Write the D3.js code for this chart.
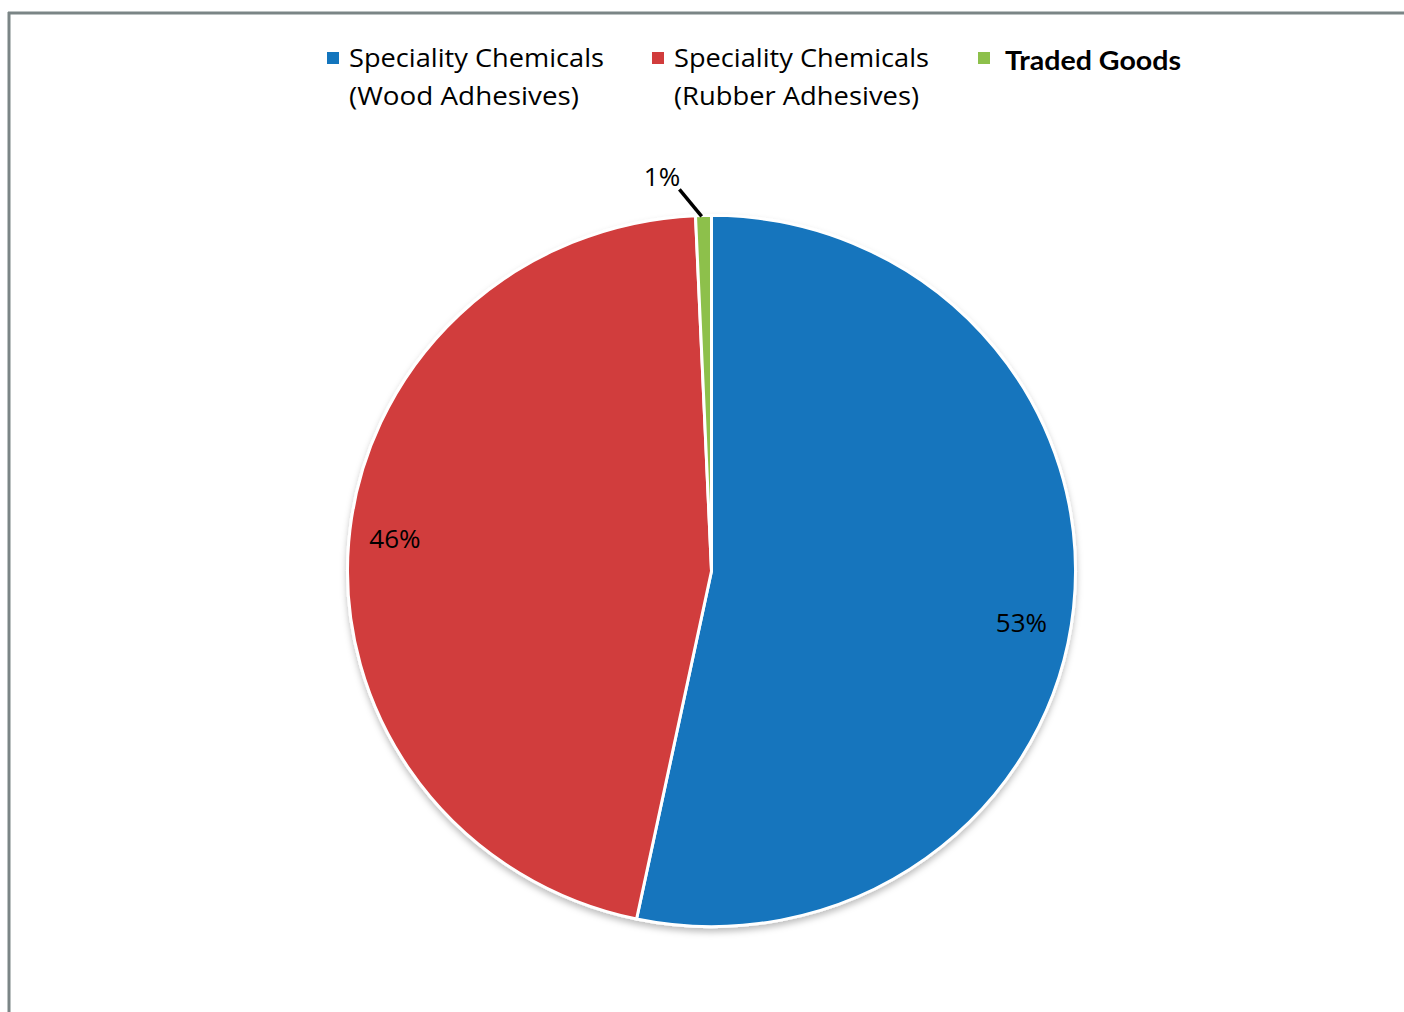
<!DOCTYPE html>
<html>
<head>
<meta charset="utf-8">
<script src="https://cdn.jsdelivr.net/npm/d3@7"></script>
<style>
  body { margin: 0; background: #fff; }
  svg { display: block; }
  .legendText { font-family: "Open Sans", sans-serif; font-size: 26px; fill: #000; }
  .legendBold { font-family: "Lato", sans-serif; font-size: 27px; font-weight: bold; fill: #000; }
  .sliceLabel { font-family: "Open Sans", sans-serif; font-size: 26px; fill: #000; }
</style>
</head>
<body>
<div id="chart"></div>
<script>
// chart data
var categories = ["Speciality Chemicals (Wood Adhesives)", "Speciality Chemicals (Rubber Adhesives)", "Traded Goods"];
var legendLines = [["Speciality Chemicals", "(Wood Adhesives)"], ["Speciality Chemicals", "(Rubber Adhesives)"], ["Traded Goods"]];
var shares = [53.3, 46.0, 0.7];
var labels = ["53%", "46%", "1%"];
var colors = ["#1375bd", "#d13c3c", "#8dc04b"];

var svgWidth = 1404;
var svgHeight = 1012;

var svg = d3.select("#chart")
    .append("svg")
    .attr("width", svgWidth)
    .attr("height", svgHeight);

// frame (top and left edges visible)
svg.append("line")
    .attr("x1", 8).attr("x2", svgWidth).attr("y1", 13).attr("y2", 13)
    .attr("stroke", "#7b8586").attr("stroke-width", 3);
svg.append("line")
    .attr("x1", 9).attr("x2", 9).attr("y1", 12).attr("y2", svgHeight)
    .attr("stroke", "#7b8586").attr("stroke-width", 3);

// drop shadow for the pie
var defs = svg.append("defs");
var filter = defs.append("filter")
    .attr("id", "shadow")
    .attr("x", "-10%").attr("y", "-10%")
    .attr("width", "120%").attr("height", "120%");
filter.append("feDropShadow")
    .attr("dx", 0).attr("dy", 4)
    .attr("stdDeviation", 3)
    .attr("flood-color", "#000")
    .attr("flood-opacity", 0.25);

// pie (picture is slightly squashed vertically)
var cx = 711.5, cy = 571, radius = 364, squash = 0.977;

var pieGroup = svg.append("g")
    .attr("transform", `translate(${cx}, ${cy}) scale(1, ${squash})`);
var labelGroup = svg.append("g")
    .attr("transform", `translate(${cx}, ${cy})`);

var pie = d3.pie().sort(null).value(d => d);
var arcs = pie(shares);

var arc = d3.arc().innerRadius(0).outerRadius(radius);

pieGroup.append("g")
    .attr("filter", "url(#shadow)")
    .selectAll("path")
    .data(arcs)
    .enter()
    .append("path")
    .attr("d", arc)
    .attr("fill", (d, i) => colors[i])
    .attr("stroke", "#fff")
    .attr("stroke-width", 3)
    .attr("stroke-linejoin", "round");

// slice labels
var labelArc = d3.arc().innerRadius(radius * 0.87).outerRadius(radius * 0.87);
var labelOffsets = [[-5, 19], [-1, -8]];

arcs.forEach(function (d, i) {
    if (i < 2) {
        var c = labelArc.centroid(d);
        labelGroup.append("text")
            .attr("class", "sliceLabel")
            .attr("x", c[0] + labelOffsets[i][0])
            .attr("y", c[1] * squash + labelOffsets[i][1])
            .attr("text-anchor", "middle")
            .attr("dominant-baseline", "central")
            .text(labels[i]);
    } else {
        // small slice: outside label with leader line
        var mid = (d.startAngle + d.endAngle) / 2;
        var p1 = d3.pointRadial(mid - 0.005, radius - 1);
        var p2 = d3.pointRadial(mid - 0.06, radius + 28);
        labelGroup.append("line")
            .attr("x1", p1[0]).attr("y1", p1[1] * squash)
            .attr("x2", p2[0]).attr("y2", p2[1] * squash)
            .attr("stroke", "#000").attr("stroke-width", 3.5);
        var p3 = d3.pointRadial(mid - 0.1, radius + 43);
        labelGroup.append("text")
            .attr("class", "sliceLabel")
            .attr("x", p3[0])
            .attr("y", p3[1] * squash)
            .attr("text-anchor", "middle")
            .attr("dominant-baseline", "central")
            .text(labels[i]);
    }
});

// legend
var legendX = [327, 652, 978];
var legendTextW = [[255, 230], [255, 245], [176]];
var legend = svg.append("g").attr("class", "legend");

legendLines.forEach(function (lines, i) {
    var g = legend.append("g").attr("transform", `translate(${legendX[i]}, 0)`);
    g.append("rect")
        .attr("x", 0).attr("y", 52)
        .attr("width", 12).attr("height", 12)
        .attr("fill", colors[i]);
    lines.forEach(function (t, j) {
        g.append("text")
            .attr("class", i === 2 ? "legendBold" : "legendText")
            .attr("x", i === 2 ? 27 : 22)
            .attr("y", (i === 2 ? 70 : 67) + j * 38)
            .attr("textLength", legendTextW[i][j])
            .attr("lengthAdjust", "spacingAndGlyphs")
            .text(t);
    });
});
</script>
</body>
</html>
